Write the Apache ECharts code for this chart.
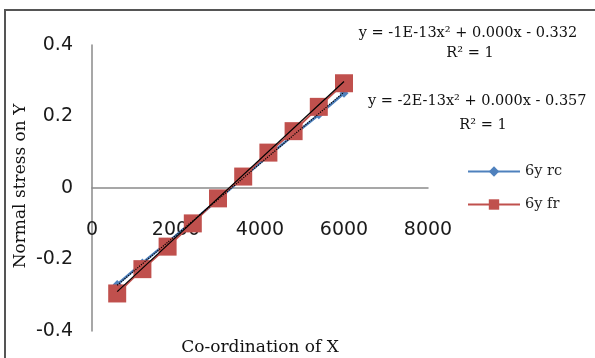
<!DOCTYPE html>
<html>
<head>
<meta charset="utf-8">
<script src="https://cdn.jsdelivr.net/npm/echarts@6/dist/echarts.min.js"></script>
<style>
  html, body { margin: 0; padding: 0; background: #fff; }
  #main { width: 595px; height: 358px; }
</style>
</head>
<body>
<div id="main"></div>
<script>
// values
const xValues = [600, 1200, 1800, 2400, 3000, 3600, 4200, 4800, 5400, 6000];
const rcValues = [-0.27, -0.21, -0.152, -0.093, -0.033, 0.03, 0.09, 0.148, 0.205, 0.265];
const frValues = [-0.295, -0.227, -0.164, -0.099, -0.029, 0.032, 0.099, 0.159, 0.227, 0.293];

// trendline end points
const trendX = [600, 6000];
const rcTrend = [-0.272, 0.268];
const frTrend = [-0.29, 0.298];

const xTicks = [0, 2000, 4000, 6000, 8000];
const yTicks = [-0.4, -0.2, 0, 0.2, 0.4];

const pairs = (xs, ys) => xs.map((x, i) => [x, ys[i]]);

const serif = "'DejaVu Serif'";

var chart = echarts.init(document.getElementById("main"));
var option = {
  backgroundColor: "#fff",
  animation: false,
  grid: {
    left: 92, right: 167, top: 45, bottom: 27,
    containLabel: false,
    outerBoundsMode: "none",
  },
  xAxis: {
    type: "value",
    min: xTicks[0],
    max: xTicks[xTicks.length - 1],
    interval: 2000,
    // axis sits on y = 0: grid height 286, zero is in the middle
    offset: -143,
    axisLine: { onZero: false, lineStyle: { color: "#8a8a8a", width: 1.5 } },
    axisTick: { show: false },
    splitLine: { show: false },
    axisLabel: {
      margin: 33,
      color: "#1a1a1a",
      fontFamily: "DejaVu Sans",
      fontSize: 19,
      formatter: (v) => String(v),
    },
  },
  yAxis: {
    type: "value",
    min: yTicks[0],
    max: yTicks[yTicks.length - 1],
    interval: 0.2,
    axisLine: { show: true, onZero: false, lineStyle: { color: "#8a8a8a", width: 1.5 } },
    axisTick: { show: false },
    splitLine: { show: false },
    axisLabel: {
      margin: 19,
      color: "#1a1a1a",
      fontFamily: "DejaVu Sans",
      fontSize: 19,
      formatter: (v) => (v === 0 ? "0" : String(Math.round(v * 10) / 10)),
    },
  },
  legend: {
    orient: "vertical",
    left: 462,
    top: 159,
    itemWidth: 52,
    itemHeight: 13,
    itemGap: 18,
    data: ["6y rc", "6y fr"],
    textStyle: { fontFamily: "DejaVu Serif", fontSize: 14.5, color: "#222" },
  },
  series: [
    {
      name: "6y rc",
      type: "line",
      data: pairs(xValues, rcValues),
      symbol: "diamond",
      symbolSize: 9,
      itemStyle: { color: "#4F81BD" },
      lineStyle: { color: "#4F81BD", width: 2.5 },
      z: 2,
    },
    {
      name: "6y fr",
      type: "line",
      data: pairs(xValues, frValues),
      symbol: "rect",
      symbolSize: 18,
      itemStyle: { color: "#C0504D" },
      lineStyle: { color: "#C0504D", width: 2 },
      z: 3,
    },
    {
      name: "trend rc",
      type: "line",
      data: pairs(trendX, rcTrend),
      symbol: "none",
      lineStyle: { color: "#000", width: 1.2, type: "dotted" },
      z: 5,
    },
    {
      name: "trend fr",
      type: "line",
      data: pairs(trendX, frTrend),
      symbol: "none",
      lineStyle: { color: "#000", width: 1.2 },
      z: 5,
    },
  ],
  graphic: [
    {
      type: "rect",
      shape: { x: 5, y: 10, width: 620, height: 380 },
      style: { fill: "none", stroke: "#555", lineWidth: 2 },
      silent: true,
    },
    {
      type: "text",
      x: 468,
      y: 33,
      style: {
        text: "y = -1E-13x\u00b2 + 0.000x - 0.332",
        font: "14.5px " + serif,
        fill: "#111",
        align: "center",
        verticalAlign: "middle",
      },
    },
    {
      type: "text",
      x: 470,
      y: 53,
      style: {
        text: "R\u00b2 = 1",
        font: "14.5px " + serif,
        fill: "#111",
        align: "center",
        verticalAlign: "middle",
      },
    },
    {
      type: "text",
      x: 368,
      y: 101,
      style: {
        text: "y = -2E-13x\u00b2 + 0.000x - 0.357",
        font: "14.5px " + serif,
        fill: "#111",
        verticalAlign: "middle",
      },
    },
    {
      type: "text",
      x: 483,
      y: 125,
      style: {
        text: "R\u00b2 = 1",
        font: "14.5px " + serif,
        fill: "#111",
        align: "center",
        verticalAlign: "middle",
      },
    },
    {
      type: "text",
      x: 21,
      y: 186,
      rotation: Math.PI / 2,
      style: {
        text: "Normal stress on Y",
        font: "17px " + serif,
        fill: "#111",
        align: "center",
        verticalAlign: "middle",
      },
    },
    {
      type: "text",
      x: 260,
      y: 348,
      style: {
        text: "Co-ordination of X",
        font: "17px " + serif,
        fill: "#111",
        align: "center",
        verticalAlign: "middle",
      },
    },
  ],
};
option && chart.setOption(option);
</script>
</body>
</html>
